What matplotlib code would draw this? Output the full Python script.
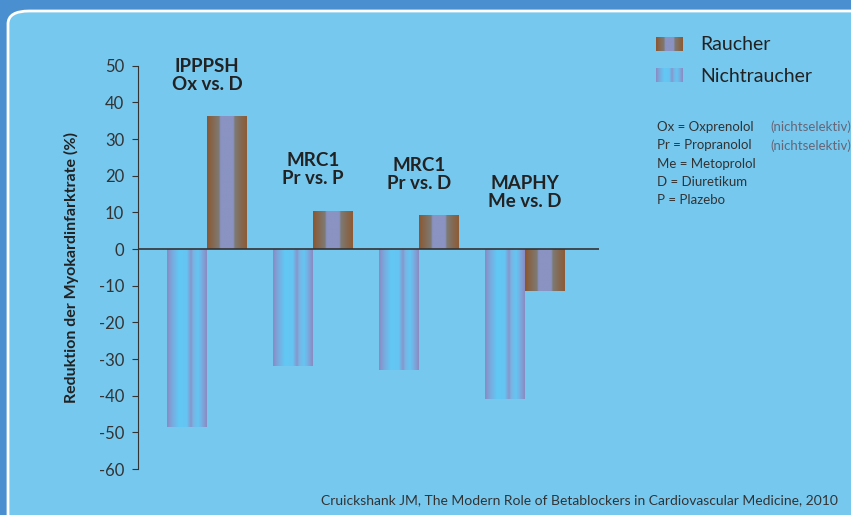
import numpy as np
import matplotlib
matplotlib.use("Agg")
import matplotlib.pyplot as plt
from matplotlib.patches import FancyBboxPatch
from matplotlib.colors import LinearSegmentedColormap
from matplotlib import font_manager

# data
studies = ["IPPPSH\nOx vs. D", "MRC1\nPr vs. P", "MRC1\nPr vs. D", "MAPHY\nMe vs. D"]
raucher = [36.2, 10.4, 9.2, -11.5]
nichtraucher = [-48.5, -32.0, -33.0, -40.8]
label_y = [42.5, 17.0, 15.5, 10.7]
yticks = [50, 40, 30, 20, 10, 0, -10, -20, -30, -40, -50, -60]
abbrev = [("Ox = Oxprenolol", "(nichtselektiv)"),
          ("Pr = Propranolol", "(nichtselektiv)"),
          ("Me = Metoprolol", ""),
          ("D = Diuretikum", ""),
          ("P = Plazebo", "")]
source = "Cruickshank JM, The Modern Role of Betablockers in Cardiovascular Medicine, 2010"

names = {f.name for f in font_manager.fontManager.ttflist}
fam = "Liberation Sans Narrow" if "Liberation Sans Narrow" in names else "Lato"
plt.rcParams['font.family'] = [fam, 'DejaVu Sans']
plt.rcParams['axes.unicode_minus'] = False

bg = "#76c8ef"
txt = "#222222"

fig = plt.figure(figsize=(8.51, 5.15), dpi=100)
fig.patch.set_facecolor("#4a8fcf")

# rounded inner panel
panel = FancyBboxPatch((8/851, -0.1), 1.1, 1 - 11/515 + 0.1,
                       boxstyle="round,pad=0,rounding_size=0.025",
                       transform=fig.transFigure, facecolor=bg,
                       edgecolor="white", linewidth=2, zorder=-10)
fig.patches.append(panel)

ax = fig.add_axes([138/851, 1 - 469/515, (599 - 138)/851, (469 - 65.7)/515])
ax.set_facecolor("none")

x = np.arange(len(studies))
w = 0.377

b_nr = ax.bar(x - w, nichtraucher, width=w, align='edge', color="#80a8dc", linewidth=0)
b_r = ax.bar(x, raucher, width=w, align='edge', color="#857466", linewidth=0)

cmap_r = LinearSegmentedColormap.from_list("r", [
    (0.0, "#8b5630"), (0.12, "#86664d"), (0.3, "#7e7a72"), (0.34, "#8a93c2"),
    (0.66, "#8a93c2"), (0.7, "#7e7a72"), (0.88, "#86664d"), (1.0, "#8e5a33")])
cmap_nr = LinearSegmentedColormap.from_list("nr", [
    (0.0, "#8a8ac2"), (0.12, "#7aa8dc"), (0.3, "#62c8f4"), (0.5, "#66c4f2"),
    (0.6, "#8696cc"), (0.66, "#78b4e4"), (0.78, "#64c6f2"), (0.9, "#7ea6da"),
    (1.0, "#8a8ac2")])

grad = np.linspace(0, 1, 256).reshape(1, -1)
for bars, cm in ((b_nr, cmap_nr), (b_r, cmap_r)):
    for p in bars:
        x0, y0 = p.get_x(), p.get_y()
        x1, y1 = x0 + p.get_width(), y0 + p.get_height()
        im = ax.imshow(grad, cmap=cm, aspect='auto', extent=(x0, x1, min(y0, y1), max(y0, y1)),
                       interpolation='bilinear', zorder=2)
        im.set_clip_path(p)

for xi, lab, ly in zip(x, studies, label_y):
    ax.text(xi, ly, lab, ha='center', va='bottom', fontsize=13.5, color=txt,
            fontweight='bold', linespacing=1.05)

ax.axhline(0, color="#333333", lw=1.2, zorder=3)
ax.set_xlim(-0.65, 3.70)
ax.set_ylim(-60, 50)
ax.set_yticks(yticks)
ax.set_xticks([])
for s in ("top", "right", "bottom"):
    ax.spines[s].set_visible(False)
ax.spines["left"].set_color("#333333")
ax.tick_params(axis='y', direction='out', length=4, colors="#333333", labelsize=12,
               labelcolor="#333333", pad=6)
ax.set_ylabel("Reduktion der Myokardinfarktrate (%)", fontsize=11.5, fontweight='bold',
              color=txt, labelpad=14)

# legend
def swatch(x0, y0, cm):
    fax = fig.add_axes([x0/851, 1 - (y0 + 14)/515, 27/851, 14/515])
    fax.imshow(grad, cmap=cm, aspect='auto', interpolation='bilinear')
    fax.axis('off')

swatch(656, 37, cmap_r)
swatch(656, 68, cmap_nr)
fig.text(700/851, 1 - 44/515, "Raucher", fontsize=14, color=txt, va='center')
fig.text(700/851, 1 - 77/515, "Nichtraucher", fontsize=14, color=txt, va='center')

for i, (a, b) in enumerate(abbrev):
    yy = 1 - (127 + i * 18.3)/515
    fig.text(657/851, yy, a, fontsize=9.5, color="#333333", va='center')
    if b:
        fig.text(770/851, yy, b, fontsize=9.5, color="#666677", va='center')

fig.text(838/851, 1 - 500/515, source, fontsize=10, color="#333333", ha='right', va='center')

fig.savefig("out.png", dpi=100, facecolor=fig.get_facecolor())
